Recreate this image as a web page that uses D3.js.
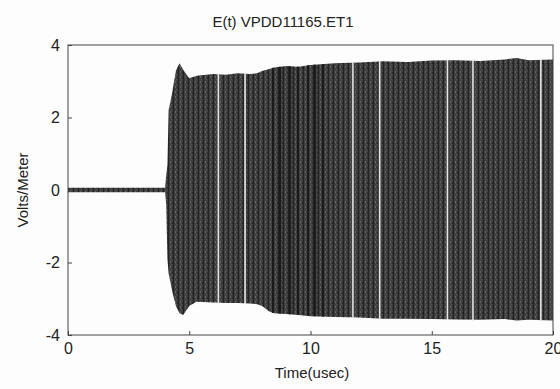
<!DOCTYPE html>
<html>
<head>
  <meta charset="utf-8">
  <title>E(t) VPDD11165.ET1</title>
  <script src="https://d3js.org/d3.v7.min.js"></script>
  <style>
    body { margin: 0; background: #fdfdfd; }
    svg { font-family: "Liberation Sans", Arial, sans-serif; }
  </style>
</head>
<body>
<svg class="chart"></svg>
<script>

const envTime  = [0, 4.0, 4.05, 4.1, 4.15, 4.3, 4.45, 4.6, 4.75, 5.0, 5.3, 6.0, 6.5, 7.0, 7.5, 7.8, 8.0, 8.3, 8.5, 9.0, 9.5, 10.0, 11.0, 12.0, 13.0, 14.0, 15.0, 16.0, 17.0, 18.0, 18.5, 19.0, 20.0];
const envUpper = [0.06, 0.06, 0.4, 0.7, 2.2, 2.7, 3.3, 3.5, 3.32, 3.08, 3.15, 3.2, 3.18, 3.22, 3.2, 3.22, 3.28, 3.34, 3.38, 3.42, 3.4, 3.45, 3.5, 3.52, 3.55, 3.53, 3.57, 3.58, 3.56, 3.6, 3.64, 3.58, 3.6];
const envLower = [-0.06, -0.06, -0.4, -1.9, -2.3, -2.8, -3.2, -3.4, -3.45, -3.2, -3.08, -3.1, -3.12, -3.12, -3.13, -3.15, -3.2, -3.35, -3.4, -3.42, -3.45, -3.48, -3.5, -3.52, -3.55, -3.55, -3.56, -3.57, -3.58, -3.56, -3.6, -3.58, -3.6];

// dropouts (white gaps) and darker bands in the trace
const gapTimes  = [6.2, 7.3, 11.75, 12.85, 15.65, 16.7, 19.5];
const darkTimes = [8.45, 8.74, 9.15, 9.48, 9.9, 10.18, 10.51];

const xTicks = [0, 5, 10, 15, 20];
const yTicks = [-4, -2, 0, 2, 4];

const margin = {top: 45, right: 7, bottom: 54, left: 68},
  W = 560, H = 389,
  width = W - margin.left - margin.right,
  height = H - margin.top - margin.bottom;

const svg = d3.select(".chart")
  .attr("width", W)
  .attr("height", H);

// texture for the dense oscillation
const defs = svg.append("defs");
const pat = defs.append("pattern")
  .attr("id", "osc")
  .attr("patternUnits", "userSpaceOnUse")
  .attr("width", 5)
  .attr("height", 5);
pat.append("rect").attr("width", 5).attr("height", 5).attr("fill", "#3f3f3f");
pat.append("rect").attr("x", 0).attr("width", 1).attr("height", 5).attr("fill", "#222");
pat.append("rect").attr("x", 2).attr("y", 1).attr("width", 1).attr("height", 2).attr("fill", "#666");
pat.append("rect").attr("x", 3).attr("y", 4).attr("width", 1).attr("height", 1).attr("fill", "#5a5a5a");
pat.append("rect").attr("x", 4).attr("y", 2).attr("width", 1).attr("height", 2).attr("fill", "#2c2c2c");

const chart = svg.append("g")
  .attr("transform", `translate(${margin.left}, ${margin.top})`);

const x = d3.scaleLinear().domain([0, 20]).range([0, width]);
const y = d3.scaleLinear().domain([-4, 4]).range([height, 0]);

const env = envTime.map((t, i) => ({t: t, hi: envUpper[i], lo: envLower[i]}));

const area = d3.area()
  .x(d => x(d.t))
  .y0(d => y(d.lo))
  .y1(d => y(d.hi));

chart.append("path")
  .datum(env)
  .attr("d", area)
  .attr("fill", "url(#osc)");

// envelope value at any time
const hiAt = t => d3.scaleLinear().domain(envTime).range(envUpper)(t);
const loAt = t => d3.scaleLinear().domain(envTime).range(envLower)(t);

chart.selectAll(".dark")
  .data(darkTimes)
  .join("line")
    .attr("x1", d => x(d)).attr("x2", d => x(d))
    .attr("y1", d => y(hiAt(d)))
    .attr("y2", d => y(loAt(d)))
    .attr("stroke", "#1a1a1a")
    .attr("stroke-width", 2);

chart.selectAll(".gap")
  .data(gapTimes)
  .join("line")
    .attr("x1", d => x(d)).attr("x2", d => x(d))
    .attr("y1", d => y(hiAt(d)) - 1)
    .attr("y2", d => y(loAt(d)) + 1)
    .attr("stroke", "#e6e6e6")
    .attr("stroke-width", 1.6);

// box
chart.append("rect")
  .attr("width", width)
  .attr("height", height)
  .attr("fill", "none")
  .attr("stroke", "#444")
  .attr("stroke-width", 1);

// axes with inward ticks
const xAxis = chart.append("g")
  .attr("transform", `translate(0, ${height})`)
  .call(d3.axisBottom(x).tickValues(xTicks).tickSize(-4).tickPadding(8).tickFormat(d => String(d)));
const yAxis = chart.append("g")
  .call(d3.axisLeft(y).tickValues(yTicks).tickSize(-4).tickPadding(8).tickFormat(d => String(d)));

[xAxis, yAxis].forEach(a => {
  a.select(".domain").remove();
  a.selectAll("line").attr("stroke", "#444");
  a.selectAll("text")
    .attr("fill", "#222")
    .style("font-size", "16px")
    .style("font-family", "Liberation Sans, Arial, sans-serif");
});

// titles
svg.append("text")
  .attr("x", 283).attr("y", 27)
  .attr("text-anchor", "middle")
  .attr("fill", "#222")
  .style("font-size", "15px")
  .text("E(t) VPDD11165.ET1");

svg.append("text")
  .attr("x", 312).attr("y", 378)
  .attr("text-anchor", "middle")
  .attr("fill", "#222")
  .style("font-size", "15px")
  .text("Time(usec)");

svg.append("text")
  .attr("transform", "translate(28, 190) rotate(-90)")
  .attr("text-anchor", "middle")
  .attr("fill", "#222")
  .style("font-size", "15px")
  .text("Volts/Meter");

</script>
</body>
</html>
